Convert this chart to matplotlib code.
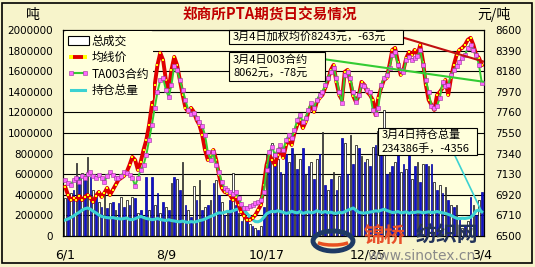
import numpy as np
import matplotlib.pyplot as plt
from matplotlib.patches import Rectangle, Patch, Circle, Arc
from matplotlib.lines import Line2D

CJK = ['Noto Sans CJK SC', 'DejaVu Sans']

# daily total volume, in units of 10,000 lots (6/1 .. 3/4)
volume_wan = [37, 38, 42, 45, 71, 57, 61, 54, 77, 57,
              45, 38, 33, 28, 42, 27, 32, 33, 25, 32,
              38, 28, 35, 30, 38, 37, 22, 25, 18, 57,
              25, 57, 30, 42, 22, 33, 28, 25, 51, 57,
              55, 45, 72, 30, 25, 18, 49, 35, 54, 25,
              28, 30, 35, 51, 54, 40, 33, 20, 25, 35,
              61, 30, 22, 15, 25, 18, 12, 10, 8, 6,
              10, 28, 80, 80, 90, 70, 75, 62, 60, 80,
              72, 85, 80, 65, 75, 85, 60, 68, 72, 55,
              75, 80, 101, 50, 45, 55, 62, 45, 58, 95,
              90, 60, 98, 70, 88, 85, 78, 72, 75, 68,
              86, 88, 102, 80, 122, 60, 62, 68, 72, 80,
              62, 70, 65, 82, 55, 68, 72, 52, 70, 70,
              68, 70, 52, 45, 50, 42, 48, 35, 30, 28,
              30, 18, 8, 10, 15, 38, 30, 20, 35, 43]

# total open interest, thousands of lots
open_int_k = [155, 165, 180, 195, 214, 230, 250, 265, 272, 260,
              240, 225, 205, 190, 184, 178, 175, 180, 172, 168,
              165, 170, 175, 160, 158, 168, 180, 190, 180, 170,
              165, 158, 162, 170, 160, 155, 150, 158, 150, 146,
              140, 138, 145, 136, 132, 140, 135, 140, 150, 155,
              165, 178, 190, 200, 215, 225, 222, 230, 240, 235,
              245, 255, 265, 268, 250, 220, 190, 160, 140, 138,
              150, 180, 215, 230, 240, 235, 245, 238, 230, 220,
              225, 240, 230, 225, 238, 220, 228, 235, 225, 230,
              245, 235, 228, 238, 225, 232, 222, 220, 230, 225,
              235, 250, 260, 272, 250, 230, 225, 222, 228, 232,
              236, 245, 240, 250, 260, 248, 238, 228, 230, 238,
              225, 228, 235, 220, 230, 228, 235, 232, 225, 230,
              235, 228, 230, 238, 230, 225, 220, 210, 200, 185,
              172, 168, 172, 170, 175, 180, 205, 245, 252, 234.386]

# weighted average price (yuan/ton)
avg_price = [7000, 6918, 6867, 6888, 6867, 6908, 6867, 6898, 6918, 6888,
             6847, 6908, 6949, 6898, 6939, 6990, 6918, 6969, 7020, 7071,
             7092, 7112, 7153, 7224, 7306, 7275, 7173, 7255, 7377, 7479,
             7632, 7836, 8040, 8244, 8367, 8295, 8091, 7989, 8193, 8326,
             8244, 8091, 7938, 7806, 7765, 7806, 7765, 7683, 7632, 7530,
             7377, 7275, 7326, 7377, 7275, 7122, 6990, 6949, 6939, 6918,
             6867, 6898, 6816, 6745, 6704, 6663, 6663, 6684, 6714, 6765,
             6816, 7020, 7224, 7326, 7275, 7224, 7326, 7377, 7296, 7428,
             7479, 7428, 7551, 7632, 7683, 7601, 7663, 7765, 7836, 7765,
             7867, 7908, 7938, 8010, 8091, 8193, 8244, 8071, 7938, 7887,
             8173, 8193, 8071, 7928, 7867, 7928, 8071, 8040, 7969, 7938,
             7887, 7734, 7908, 8010, 8091, 8112, 8244, 8397, 8418, 8275,
             8142, 8193, 8316, 8377, 8346, 8397, 8346, 8448, 8275, 8040,
             7887, 7836, 7785, 7938, 7969, 8010, 8091, 7938, 8112, 8244,
             8346, 8397, 8418, 8448, 8500, 8520, 8448, 8346, 8316, 8243]

# TA003 contract price (yuan/ton)
ta003_price = [7071, 7041, 7020, 7071, 7092, 7051, 7112, 7092, 7132, 7153,
               7112, 7092, 7122, 7092, 7051, 7112, 7153, 7122, 7092, 7092,
               7112, 7153, 7143, 7122, 7092, 7010, 7092, 7173, 7224, 7326,
               7479, 7632, 7806, 7969, 8091, 8112, 7989, 7918, 8040, 8234,
               8193, 8091, 7989, 7887, 7785, 7744, 7754, 7704, 7663, 7622,
               7530, 7357, 7275, 7357, 7224, 7153, 7051, 6990, 6969, 6949,
               6928, 6949, 6888, 6826, 6786, 6786, 6806, 6816, 6837, 6847,
               6867, 6949, 7173, 7357, 7408, 7326, 7377, 7428, 7377, 7479,
               7530, 7500, 7581, 7683, 7734, 7663, 7704, 7785, 7857, 7806,
               7887, 7938, 7969, 8040, 8112, 8173, 8214, 8112, 7969, 7857,
               8142, 8173, 8112, 7969, 7867, 7938, 8040, 8030, 7989, 7969,
               7785, 7744, 7806, 8040, 8112, 8142, 8214, 8346, 8377, 8244,
               8193, 8173, 8295, 8326, 8295, 8316, 8336, 8397, 8244, 8091,
               7969, 7826, 7806, 7826, 7908, 8071, 8030, 8040, 8142, 8193,
               8234, 8275, 8316, 8346, 8418, 8448, 8397, 8346, 8244, 8062]

# trend lines drawn on the chart (day index, price)
red_trend_day = [120, 150]
red_trend_price = [8530, 8275]
green_trend_day = [92, 150]
green_trend_price = [8305, 8071]

date_labels = ['6/1', '8/9', '10/17', '12/25', '3/4']
date_days = [0, 36, 72, 108, 149]

FIG_BG = '#F7F4CB'
PLOT_BG = '#FFFFDC'
W, H = 535, 267

days = np.arange(len(volume_wan))
volume = np.array(volume_wan) * 10000
open_int = np.array(open_int_k) * 1000

fig = plt.figure(figsize=(W / 100, H / 100), dpi=100, facecolor=FIG_BG)
ax = fig.add_axes([63 / W, 31 / H, 421 / W, 206 / H])
ax.set_facecolor(PLOT_BG)
ax.set_xlim(-0.8, 149.8)
ax.set_ylim(0, 2000000)
ax.set_yticks(range(0, 2000001, 200000))
ax.yaxis.set_major_formatter(plt.FuncFormatter(lambda v, p: f'{int(v)}'))
ax.set_xticks(date_days)
ax.set_xticklabels(date_labels)
ax.tick_params(axis='y', length=0, labelsize=7.5, pad=7)
ax.tick_params(axis='x', length=0, labelsize=9, pad=9)
ax.grid(axis='y', color='black', lw=0.8)
ax.set_axisbelow(True)
for s in ax.spines.values():
    s.set_color('black')
    s.set_linewidth(0.8)

bar_colors = ['white' if d % 2 == 0 else '#1010C8' for d in days]
bar_edges = ['black' if d % 2 == 0 else '#0000A0' for d in days]
ax.bar(days, volume, width=0.6, color=bar_colors, edgecolor=bar_edges,
       linewidth=0.5, zorder=2)
ax.plot(days, open_int, color='#3CD2D2', lw=2.2, zorder=3)
# pointer from the open-interest box to last point
ax.plot([139.3, days[-1]], [786000, open_int[-1]], color='#3CD2D2', lw=1.2, zorder=3)

ax2 = ax.twinx()
ax2.set_ylim(6500, 8600)
ax2.set_yticks(range(6500, 8601, 210))
ax2.tick_params(axis='y', length=0, labelsize=7.5, pad=8)
ax2.plot(days, avg_price, color='#E00000', lw=2.8, marker='s', ms=1.6,
         mfc='#FFFF00', mec='#FFFF00', mew=0, zorder=3)
ax2.plot(days, ta003_price, color='#33CC33', lw=1.4, marker='s', ms=2.2,
         mfc='#FF66FF', mec='#993399', mew=0.4, zorder=4)
ax2.plot(red_trend_day, red_trend_price, color='#C01010', lw=1.5, zorder=5)
ax2.plot(green_trend_day, green_trend_price, color='#33CC33', lw=1.5, zorder=5)

handles = [Patch(facecolor='white', edgecolor='black', lw=0.8),
           Line2D([], [], color='#E00000', lw=2.8, marker='s', ms=2.2,
                  mfc='#FFFF00', mec='#FFFF00', mew=0),
           Line2D([], [], color='#33CC33', lw=1.5, marker='s', ms=2.6,
                  mfc='#FF66FF', mec='#993399', mew=0.4),
           Line2D([], [], color='#3CD2D2', lw=2.2)]
leg = ax2.legend(handles, ['总成交', '均线价', 'TA003合约', '持仓总量'],
                 loc='upper left', bbox_to_anchor=(0.0, 1.0), frameon=True,
                 facecolor=PLOT_BG, edgecolor='none', framealpha=1,
                 prop={'family': CJK, 'size': 8.5}, handlelength=1.8,
                 handleheight=0.8, handletextpad=0.25, labelspacing=0.3,
                 borderpad=0.3, borderaxespad=0.1, numpoints=2)
leg.set_zorder(10)


def fx(x):
    return x / W


def fy(y):
    return 1 - y / H


def box(x0, y0, x1, y1, lines, size=8):
    fig.patches.append(Rectangle((fx(x0), fy(y1)), fx(x1 - x0), (y1 - y0) / H,
                                 transform=fig.transFigure, facecolor=PLOT_BG,
                                 edgecolor='black', lw=0.8, zorder=20))
    n = len(lines)
    for k, t in enumerate(lines):
        yc = y0 + (y1 - y0) * (k + 0.5) / n
        fig.text(fx(x0 + 4), fy(yc), t, fontsize=size, family=CJK,
                 va='center', ha='left', zorder=21)


box(229, 30, 403, 44, ['3月4日加权均价8243元，-63元'])
box(229, 52, 325, 81, ['3月4日003合约', '8062元，-78元'])
box(378, 128, 477, 155, ['3月4日持仓总量', '234386手，-4356'])

fig.text(fx(270), fy(15), '郑商所PTA期货日交易情况', color='#C00000',
         fontsize=10.5, fontweight='bold', family=CJK, ha='center', va='center')
fig.text(fx(33), fy(15), '吨', fontsize=10, family=CJK, ha='center', va='center')
fig.text(fx(494), fy(15), '元/吨', fontsize=10, family=CJK, ha='center', va='center')

# watermark
fig.patches.append(Circle((fx(333), fy(241)), 20 / W, transform=fig.transFigure,
                          facecolor='none', edgecolor='#1E3A64', lw=3.5, zorder=30))
fig.patches.append(Arc((fx(333), fy(240)), 36 / W, 10 / H, theta1=200, theta2=340,
                       transform=fig.transFigure, edgecolor='#E85020', lw=2.5, zorder=31))
fig.text(fx(364), fy(235), '锦桥', color='#E8502A', fontsize=15, fontweight='bold',
         family=CJK, ha='left', va='center', zorder=32)
fig.text(fx(416), fy(235), '纺织网', color='#22325A', fontsize=15, fontweight='bold',
         family=CJK, ha='left', va='center', zorder=32)
fig.text(fx(422), fy(256), 'www.sinotex.cn', color='#8A8A8A', fontsize=10,
         ha='center', va='center', zorder=32)

fig.patches.append(Rectangle((fx(2), fy(263)), fx(530), 260 / H,
                             transform=fig.transFigure, facecolor='none',
                             edgecolor='black', lw=1.2, zorder=40))

fig.savefig('out.png', dpi=100, facecolor=FIG_BG)
